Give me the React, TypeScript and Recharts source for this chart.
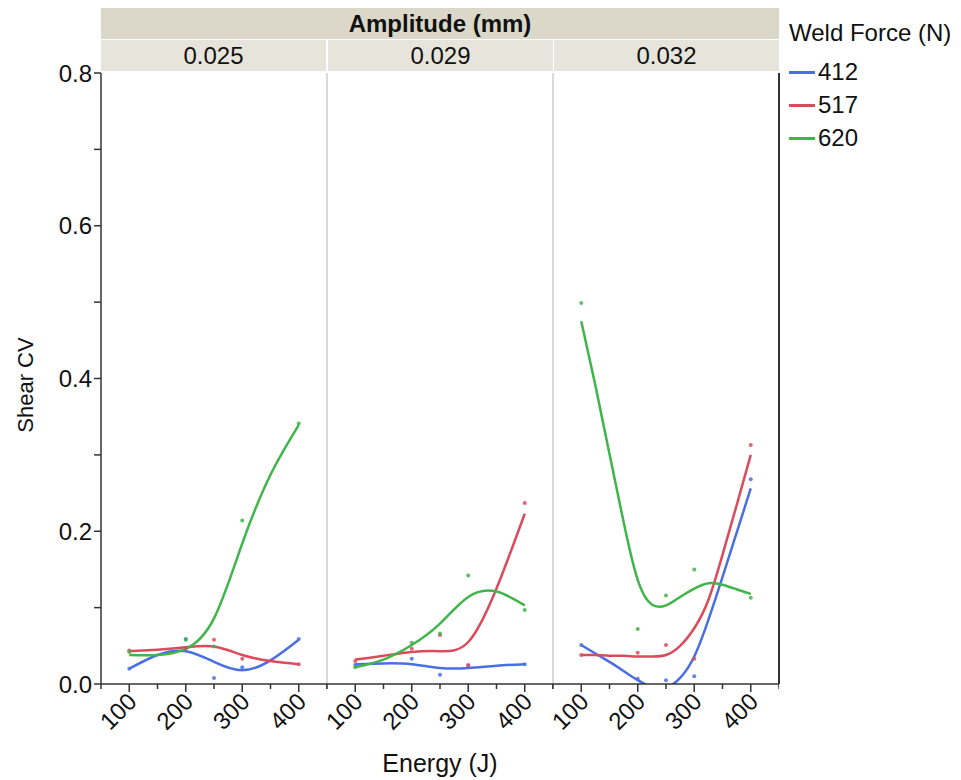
import React from 'react';
import { ComposedChart, Line, Scatter, XAxis, YAxis } from 'recharts';

// facets / groups
const amplitudes = ['0.025', '0.029', '0.032'];
const forces = ['412', '517', '620'];
const forceColors = ['#4a6fe3', '#dc4b5b', '#3fb54a'];

// axis ticks
const xTicks = [50, 100, 150, 200, 250, 300, 350, 400, 450];
const xMajor = [100, 200, 300, 400];
const yTicks = [0, 0.1, 0.2, 0.3, 0.4, 0.5, 0.6, 0.7, 0.8];

// measured points (Energy J -> Shear CV)
const energy = [100, 200, 250, 300, 400];
const pts025_412 = [0.020, 0.059, 0.008, 0.022, 0.059];
const pts025_517 = [0.044, 0.047, 0.058, 0.033, 0.026];
const pts025_620 = [0.042, 0.058, 0.049, 0.214, 0.341];
const pts029_412 = [0.025, 0.033, 0.012, 0.024, 0.026];
const pts029_517 = [0.030, 0.046, 0.064, 0.025, 0.237];
const pts029_620 = [0.022, 0.054, 0.066, 0.142, 0.097];
const pts032_412 = [0.051, 0.007, 0.005, 0.010, 0.268];
const pts032_517 = [0.038, 0.041, 0.051, 0.033, 0.313];
const pts032_620 = [0.499, 0.072, 0.116, 0.150, 0.113];

// smoother curves
const fitGrid = [100, 150, 200, 250, 300, 350, 400];
const fitGridFine = [100, 125, 150, 175, 200, 225, 250, 275, 300, 325, 350, 375, 400];
const fit025_412 = [0.020, 0.038, 0.043, 0.029, 0.018, 0.031, 0.058];
const fit025_517 = [0.043, 0.045, 0.048, 0.049, 0.038, 0.030, 0.026];
const fit025_620 = [0.038, 0.038, 0.046, 0.086, 0.184, 0.274, 0.339];
const fit029_412 = [0.026, 0.027, 0.026, 0.021, 0.021, 0.024, 0.026];
const fit029_517 = [0.032, 0.037, 0.042, 0.043, 0.055, 0.125, 0.223];
const fit029_620 = [0.022, 0.032, 0.051, 0.079, 0.114, 0.121, 0.103];
const fit032_412 = [0.051, 0.040, 0.029, 0.017, 0.005, -0.004, -0.005, 0.008, 0.036, 0.084, 0.140, 0.198, 0.256];
const fit032_517 = [0.038, 0.038, 0.037, 0.037, 0.036, 0.036, 0.038, 0.050, 0.073, 0.110, 0.169, 0.234, 0.300];
const fit032_620 = [0.475, 0.391, 0.301, 0.212, 0.136, 0.104, 0.103, 0.114, 0.125, 0.132, 0.130, 0.124, 0.118];

const toRows = (xs: number[], ys: number[]) => xs.map((e, i) => ({ e, v: ys[i] }));

const panels = [
  {
    pts: [pts025_412, pts025_517, pts025_620],
    grid: fitGrid,
    fits: [fit025_412, fit025_517, fit025_620],
  },
  {
    pts: [pts029_412, pts029_517, pts029_620],
    grid: fitGrid,
    fits: [fit029_412, fit029_517, fit029_620],
  },
  {
    pts: [pts032_412, pts032_517, pts032_620],
    grid: fitGridFine,
    fits: [fit032_412, fit032_517, fit032_620],
  },
];

const FONT = '"Liberation Sans", Arial, sans-serif';
const PLOT_TOP = 73;
const PLOT_H = 611;
const PANEL_W = 226;
const AXIS_H = 70;
const PAD_L = 60; // room left of each plot (y axis on the first, label overhang on others)
const PAD_T = 16; // room above for the top y label
const panelLeft = [101, 327, 553];

const XTick = (props: any) => {
  const { x, y, payload } = props;
  const v = payload.value;
  const major = xMajor.includes(v);
  const ax = x + 9;
  const ay = y + 19;
  return (
    <g>
      <line x1={x} x2={x} y1={y} y2={y + (major ? 8 : 5)} stroke="#333" strokeWidth={1.5} />
      {major && (
        <text x={ax} y={ay} transform={`rotate(-45 ${ax} ${ay})`} textAnchor="end" fontSize={24} fill="#111">
          {v}
        </text>
      )}
    </g>
  );
};

const YTick = (props: any) => {
  const { x, y, payload } = props;
  const v = payload.value;
  const major = Math.round(v * 10) % 2 === 0;
  return (
    <g>
      <line x1={x - 7} x2={x} y1={y} y2={y} stroke="#333" strokeWidth={1.5} />
      {major && (
        <text x={x - 9} y={y} dy="0.36em" textAnchor="end" fontSize={24} fill="#111">
          {v.toFixed(1)}
        </text>
      )}
    </g>
  );
};

const Panel = ({ idx }: { idx: number }) => {
  const p = panels[idx];
  const first = idx === 0;
  return (
    <div style={{ position: 'absolute', left: panelLeft[idx] - PAD_L, top: PLOT_TOP - PAD_T }}>
      <ComposedChart
        width={PANEL_W + PAD_L}
        height={PAD_T + PLOT_H + AXIS_H}
        margin={{ top: PAD_T, right: 0, bottom: 0, left: first ? 0 : PAD_L }}
      >
        <XAxis
          dataKey="e"
          type="number"
          domain={[50, 450]}
          ticks={xTicks}
          interval={0}
          height={AXIS_H}
          tickSize={0}
          tickMargin={0}
          tickLine={false}
          axisLine={{ stroke: '#333', strokeWidth: 1.5 }}
          tick={<XTick />}
        />
        <YAxis
          type="number"
          domain={[0, 0.8]}
          ticks={yTicks}
          interval={0}
          allowDataOverflow
          hide={!first}
          width={PAD_L}
          tickSize={0}
          tickMargin={0}
          tickLine={false}
          axisLine={{ stroke: '#333', strokeWidth: 1.5 }}
          tick={<YTick />}
        />
        {p.pts.map((ys, i) => (
          <Scatter
            key={'s' + i}
            data={toRows(energy, ys)}
            dataKey="v"
            isAnimationActive={false}
            shape={(s: any) => <circle cx={s.cx} cy={s.cy} r={2} fill={forceColors[i]} fillOpacity={0.85} />}
          />
        ))}
        {p.fits.map((ys, i) => (
          <Line
            key={'l' + i}
            data={toRows(p.grid, ys)}
            dataKey="v"
            type="natural"
            stroke={forceColors[i]}
            strokeWidth={2.5}
            dot={false}
            activeDot={false}
            isAnimationActive={false}
          />
        ))}
      </ComposedChart>
    </div>
  );
};

export default function App() {
  return (
    <div style={{ position: 'absolute', left: 0, top: 0, width: 961, height: 780, background: '#fff', fontFamily: FONT, color: '#111' }}>
      {/* facet header */}
      <div
        style={{
          position: 'absolute', left: 101, top: 8, width: 678, height: 31, background: '#dbd8c9',
          textAlign: 'center', lineHeight: '31px', fontSize: 24, fontWeight: 'bold',
        }}
      >
        Amplitude (mm)
      </div>
      {amplitudes.map((a, i) => (
        <div
          key={a}
          style={{
            position: 'absolute', left: panelLeft[i] + (i ? 1 : 0), top: 40, width: PANEL_W - 1, height: 31,
            background: '#e7e5db', textAlign: 'center', lineHeight: '31px', fontSize: 24,
          }}
        >
          {a}
        </div>
      ))}

      {/* panel separators and right frame */}
      <div style={{ position: 'absolute', left: 326, top: PLOT_TOP, width: 1.5, height: PLOT_H, background: '#d9d9d9' }} />
      <div style={{ position: 'absolute', left: 552, top: PLOT_TOP, width: 1.5, height: PLOT_H, background: '#d9d9d9' }} />
      <div style={{ position: 'absolute', left: 778, top: PLOT_TOP, width: 1.5, height: PLOT_H, background: '#333' }} />

      {panels.map((_, i) => (
        <Panel key={i} idx={i} />
      ))}

      {/* axis titles */}
      <div
        style={{
          position: 'absolute', left: 26, top: 385, fontSize: 22, whiteSpace: 'nowrap',
          transform: 'translate(-50%, -50%) rotate(-90deg)',
        }}
      >
        Shear CV
      </div>
      <div style={{ position: 'absolute', left: 440, top: 763, fontSize: 25, transform: 'translate(-50%, -50%)', whiteSpace: 'nowrap' }}>
        Energy (J)
      </div>

      {/* legend */}
      <div style={{ position: 'absolute', left: 789, top: 19, fontSize: 24, whiteSpace: 'nowrap' }}>Weld Force (N)</div>
      {forces.map((f, i) => (
        <div key={f} style={{ position: 'absolute', left: 789, top: 72 + i * 33 - 14, height: 28, display: 'flex', alignItems: 'center' }}>
          <div style={{ width: 26, height: 3, background: forceColors[i], marginRight: 3 }} />
          <span style={{ fontSize: 24 }}>{f}</span>
        </div>
      ))}
    </div>
  );
}
